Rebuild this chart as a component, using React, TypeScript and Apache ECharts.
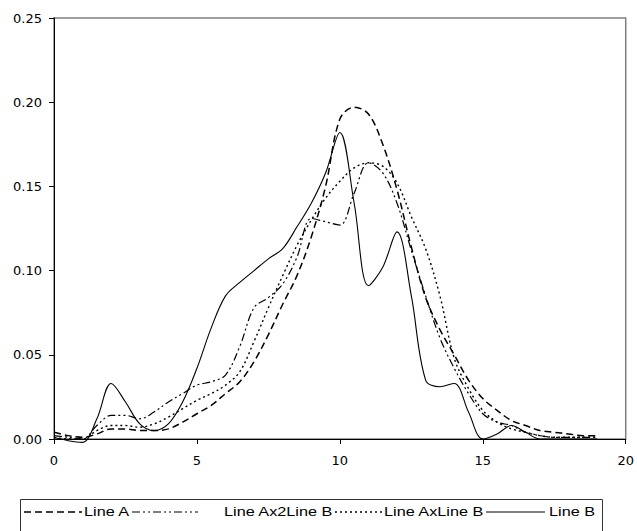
import React, { useEffect, useRef } from "react";
import * as echarts from "echarts";

const xValues = [
  0, 0.5, 1, 1.5, 2, 2.5, 3, 3.5, 4, 4.5, 5, 5.5, 6, 6.5, 7, 7.5, 8, 8.5, 9, 9.5,
  10, 10.5, 11, 11.5, 12, 12.5, 13, 13.5, 14, 14.5, 15, 15.5, 16, 16.5, 17, 17.5,
  18, 18.5, 19,
];

const lineA = [
  0.004, 0.002, 0.001, 0.003, 0.006, 0.006, 0.005, 0.005, 0.006, 0.01, 0.015,
  0.02, 0.027, 0.034, 0.046, 0.062, 0.08, 0.097, 0.12, 0.15, 0.19, 0.197, 0.193,
  0.175, 0.148, 0.114, 0.084, 0.065, 0.05, 0.035, 0.024, 0.017, 0.011, 0.008,
  0.005, 0.004, 0.003, 0.002, 0.002,
];

const lineAx2LineB = [
  0.002, 0.001, 0.0, 0.008, 0.014, 0.014, 0.012, 0.016, 0.022, 0.027, 0.032,
  0.034, 0.038, 0.055, 0.078, 0.084, 0.092, 0.108, 0.131, 0.129, 0.127, 0.146,
  0.164, 0.158, 0.14, 0.112, 0.085, 0.06, 0.042, 0.027, 0.015, 0.01, 0.008,
  0.004, 0.002, 0.001, 0.001, 0.001, 0.001,
];

const lineAxLineB = [
  0.001, 0.0, 0.0, 0.005, 0.008, 0.008, 0.007, 0.009, 0.013, 0.018, 0.023,
  0.027, 0.032, 0.04, 0.058, 0.078, 0.097, 0.115, 0.13, 0.143, 0.153, 0.161,
  0.164, 0.162, 0.152, 0.132, 0.113, 0.085, 0.048, 0.03, 0.017, 0.01, 0.006,
  0.004, 0.002, 0.001, 0.001, 0.001, 0.001,
];

const lineB = [
  0.001, -0.001, -0.002, 0.012, 0.033, 0.022, 0.009, 0.005, 0.009, 0.022, 0.042,
  0.066, 0.085, 0.093, 0.1, 0.107, 0.113, 0.126, 0.14, 0.158, 0.182, 0.14, 0.091,
  0.102, 0.123, 0.085, 0.035, 0.031, 0.033, 0.016, 0.0, 0.003, 0.008, 0.004,
  0.0, 0.0, 0.0, 0.0, 0.0,
];

const seriesNames = ["Line A", "Line Ax2Line B", "Line AxLine B", "Line B"];
const xTicks = { min: 0, max: 20, interval: 5 };
const yTicks = { min: 0, max: 0.25, interval: 0.05 };

const AXIS_FONT = "'DejaVu Sans', 'Liberation Sans', Arial, sans-serif";
const LEGEND_FONT = "'Liberation Sans', Arial, sans-serif";

const dashes: (number[] | "solid")[] = [
  [7, 4],
  [8, 3, 2, 3, 2, 3],
  [2, 3],
  "solid",
];
const widths = [1.5, 1.2, 1.4, 1.1];

export default function App() {
  const ref = useRef<HTMLDivElement>(null);
  useEffect(() => {
    if (!ref.current) return;
    const chart = echarts.init(ref.current, undefined, { renderer: "svg" });
    const allValues = [lineA, lineAx2LineB, lineAxLineB, lineB];

    const legendItems = [
      { x1: 24, x2: 82, tx: 84 },
      { x1: 132, x2: 198, tx: 224 },
      { x1: 335, x2: 382, tx: 384 },
      { x1: 486, x2: 545, tx: 549 },
    ];
    const legendY = 512;
    const graphic: any[] = [
      {
        type: "rect",
        shape: { x: 20.5, y: 499.5, width: 582, height: 40 },
        style: { fill: "#fff", stroke: "#333", lineWidth: 1 },
        silent: true,
      },
    ];
    legendItems.forEach((it, i) => {
      graphic.push({
        type: "line",
        shape: { x1: it.x1, y1: legendY, x2: it.x2, y2: legendY },
        style: {
          stroke: "#000",
          lineWidth: widths[i],
          lineDash: dashes[i] === "solid" ? null : (dashes[i] as number[]),
        },
        silent: true,
      });
      graphic.push({
        type: "text",
        x: it.tx,
        y: legendY,
        scaleX: 1.3,
        style: {
          text: seriesNames[i],
          font: `12.5px ${LEGEND_FONT}`,
          fill: "#000",
          verticalAlign: "middle",
          align: "left",
        },
        silent: true,
      });
    });

    chart.setOption({
      animation: false,
      backgroundColor: "#fff",
      grid: {
        left: 54,
        right: 6,
        top: 18,
        bottom: 92,
        show: true,
        borderColor: "#808080",
        borderWidth: 1.5,
      },
      xAxis: {
        type: "value",
        min: xTicks.min,
        max: xTicks.max,
        interval: xTicks.interval,
        axisLine: { show: true, onZero: false, lineStyle: { color: "#000", width: 1 } },
        axisTick: { show: true, inside: false, length: 5, lineStyle: { color: "#000" } },
        splitLine: { show: false },
        axisLabel: { color: "#000", fontFamily: AXIS_FONT, fontSize: 13, margin: 15 },
      },
      yAxis: {
        type: "value",
        min: yTicks.min,
        max: yTicks.max,
        interval: yTicks.interval,
        axisLine: { show: true, lineStyle: { color: "#000", width: 1 } },
        axisTick: { show: true, inside: false, length: 5, lineStyle: { color: "#000" } },
        splitLine: { show: false },
        axisLabel: {
          color: "#000",
          fontFamily: AXIS_FONT,
          fontSize: 13,
          margin: 12,
          formatter: (v: number) => v.toFixed(2),
        },
      },
      series: allValues.map((vals, i) => ({
        name: seriesNames[i],
        type: "line",
        data: vals.map((v, j) => [xValues[j], v]),
        smooth: 0.35,
        symbol: "none",
        clip: false,
        lineStyle: {
          color: "#000",
          width: widths[i],
          type: dashes[i],
        },
      })),
      graphic,
    });
    return () => chart.dispose();
  }, []);
  return <div ref={ref} style={{ width: 637, height: 531, position: "absolute", left: 0, top: 0 }} />;
}
